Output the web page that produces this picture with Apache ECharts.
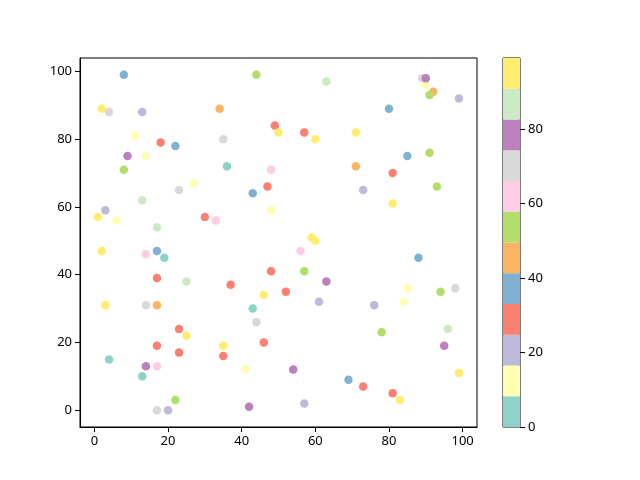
<!DOCTYPE html>
<html>
<head>
<meta charset="utf-8">
<script src="https://cdn.jsdelivr.net/npm/echarts@6/dist/echarts.min.js"></script>
<style>
  html, body { margin: 0; padding: 0; background: #fff; }
  #main { width: 640px; height: 480px; }
</style>
</head>
<body>
<div id="main"></div>
<script>
// point data
var xs = [8, 2, 4, 13, 11, 18, 22, 9, 14, 8, 27, 23, 13, 3, 1, 6, 17, 30, 33,
          44, 63, 34, 49, 50, 57, 60, 35, 36, 48, 47, 43, 48, 59, 60,
          2, 14, 17, 19, 17, 25, 3, 14, 17, 23, 25, 17, 23, 4, 14, 17, 13, 22, 17, 20,
          56, 48, 57, 63, 37, 46, 52, 61, 43, 44, 35, 35, 46, 41, 54, 69, 42, 57,
          90, 89, 90, 92, 91, 99, 80, 71, 85, 91, 71, 81, 73, 93, 81,
          88, 85, 94, 98, 76, 84, 78, 96, 95, 99, 73, 81, 83];
var ys = [99, 89, 88, 88, 81, 79, 78, 75, 75, 71, 67, 65, 62, 59, 57, 56, 54, 57, 56,
          99, 97, 89, 84, 82, 82, 80, 80, 72, 71, 66, 64, 59, 51, 50,
          47, 46, 47, 45, 39, 38, 31, 31, 31, 24, 22, 19, 17, 15, 13, 13, 10, 3, 0, 0,
          47, 41, 41, 38, 37, 34, 35, 32, 30, 26, 19, 16, 20, 12, 12, 9, 1, 2,
          96, 98, 98, 94, 93, 92, 89, 82, 75, 76, 72, 70, 65, 66, 61,
          45, 36, 35, 36, 31, 32, 23, 24, 19, 11, 7, 5, 3];
var cs = [37, 95, 70, 20, 12, 29, 37, 78, 12, 53, 12, 70, 86, 20, 95, 12, 86, 29, 62,
          53, 86, 45, 29, 95, 29, 95, 70, 4, 62, 29, 37, 12, 95, 95,
          95, 62, 37, 4, 29, 86, 95, 70, 45, 29, 95, 29, 29, 4, 78, 62, 4, 53, 70, 20,
          62, 29, 53, 78, 29, 95, 29, 20, 4, 70, 95, 29, 29, 12, 78, 37, 78, 20,
          12, 70, 78, 45, 53, 20, 37, 95, 37, 53, 45, 29, 20, 53, 95,
          37, 12, 53, 70, 20, 12, 53, 86, 78, 95, 29, 29, 95];

var xTicks = [0, 20, 40, 60, 80, 100];
var yTicks = [0, 20, 40, 60, 80, 100];
var cbTicks = [0, 20, 40, 60, 80];
var cMin = 0, cMax = 99;

// Set3 colormap
var set3 = ['#8dd3c7', '#ffffb3', '#bebada', '#fb8072', '#80b1d3', '#fdb462',
            '#b3de69', '#fccde5', '#d9d9d9', '#bc80bd', '#ccebc5', '#ffed6f'];

function colorOf(v) {
    var i = Math.floor((v - cMin) / (cMax - cMin) * set3.length);
    if (i >= set3.length) i = set3.length - 1;
    if (i < 0) i = 0;
    return set3[i];
}

var points = xs.map(function (x, i) { return [x, ys[i], cs[i]]; });

var axisFont = { color: '#000', fontSize: 13, fontFamily: 'Noto Sans' };

// colorbar: 12 stacked segments
var step = (cMax - cMin) / set3.length;
var cbSeries = set3.map(function (c) {
    return {
        type: 'bar',
        stack: 'cb',
        xAxisIndex: 1,
        yAxisIndex: 1,
        barWidth: '100%',
        silent: true,
        data: [step],
        itemStyle: { color: c }
    };
});

var myChart = echarts.init(document.getElementById('main'));

var option = {
    animation: false,
    grid: [
        { left: 80, top: 58, width: 397, height: 369, show: true, borderColor: '#000', borderWidth: 1, backgroundColor: 'transparent' },
        { left: 503, top: 58, width: 17, height: 369, show: true, borderColor: '#000', borderWidth: 1, backgroundColor: 'transparent' }
    ],
    xAxis: [
        {
            type: 'value', gridIndex: 0, min: -3.9, max: 103.9,
            splitLine: { show: false },
            axisLine: { show: true, onZero: false, lineStyle: { color: '#000', width: 1 } },
            axisTick: { show: true, inside: false, length: 5, customValues: xTicks, lineStyle: { color: '#000' } },
            axisLabel: Object.assign({ margin: 8, customValues: xTicks }, axisFont)
        },
        {
            type: 'category', gridIndex: 1, data: [''],
            show: false
        }
    ],
    yAxis: [
        {
            type: 'value', gridIndex: 0, min: -4.95, max: 103.95,
            splitLine: { show: false },
            axisLine: { show: true, onZero: false, lineStyle: { color: '#000', width: 1 } },
            axisTick: { show: true, inside: false, length: 5, customValues: yTicks, lineStyle: { color: '#000' } },
            axisLabel: Object.assign({ margin: 8, customValues: yTicks }, axisFont)
        },
        {
            type: 'value', gridIndex: 1, min: cMin, max: cMax, position: 'right',
            splitLine: { show: false },
            axisLine: { show: false },
            axisTick: { show: true, inside: false, length: 5, customValues: cbTicks, lineStyle: { color: '#000' } },
            axisLabel: Object.assign({ margin: 8, customValues: cbTicks }, axisFont)
        }
    ],
    series: [
        {
            type: 'scatter',
            xAxisIndex: 0,
            yAxisIndex: 0,
            symbolSize: 8.5,
            data: points,
            itemStyle: {
                opacity: 1,
                color: function (p) { return colorOf(p.data[2]); }
            }
        }
    ].concat(cbSeries)
};

myChart.setOption(option);
</script>
</body>
</html>
